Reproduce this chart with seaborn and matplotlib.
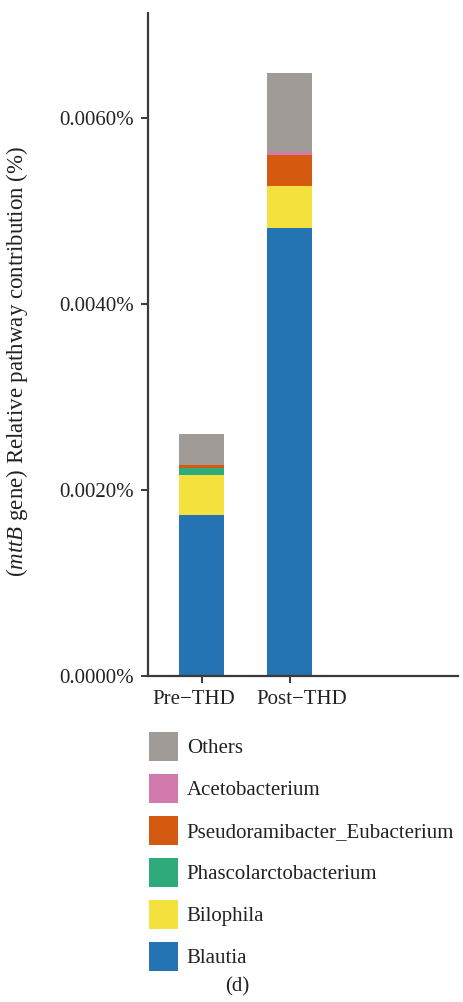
import matplotlib
matplotlib.use("Agg")
import matplotlib.pyplot as plt
import matplotlib.patches as mpatches
import matplotlib.transforms as mtransforms
from matplotlib.ticker import FuncFormatter, MultipleLocator
import numpy as np
import pandas as pd
import seaborn as sns

# Relative pathway contribution (%) of the mttB gene by genus
groups = ["Pre\u2212THD", "Post\u2212THD"]
genera = ["Blautia", "Bilophila", "Phascolarctobacterium",
          "Pseudoramibacter_Eubacterium", "Acetobacterium", "Others"]
blautia = [0.001731, 0.004817]
bilophila = [0.000430, 0.000452]
phascolarctobacterium = [0.000075, 0.0]
pseudoramibacter = [0.000032, 0.000333]
acetobacterium = [0.0, 0.000032]
others = [0.000333, 0.000850]
colors = ["#2474B4", "#F4E13E", "#2EAA7B", "#D45A10", "#D279AE", "#A09B97"]

layers = [blautia, bilophila, phascolarctobacterium,
          pseudoramibacter, acetobacterium, others]

FS = 15

sns.set_theme(style="ticks")
plt.rcParams["font.family"] = ["Liberation Serif", "DejaVu Serif"]
plt.rcParams["mathtext.fontset"] = "custom"
plt.rcParams["mathtext.it"] = "Liberation Serif:italic"
plt.rcParams["mathtext.rm"] = "Liberation Serif"

fig = plt.figure(figsize=(4.63, 10.02), dpi=100)
ax = fig.add_axes([148 / 463, 326 / 1002, 310 / 463, 663 / 1002])

# stacked bars: draw cumulative totals from the top layer down
cum = np.cumsum(np.array(layers), axis=0)
for i in range(len(layers) - 1, -1, -1):
    df = pd.DataFrame({"group": groups, "value": cum[i]})
    sns.barplot(data=df, x="group", y="value", order=groups,
                color=colors[i], saturation=1, width=0.51,
                errorbar=None, ax=ax, linewidth=0)

ax.set_xlim(-0.614, 2.92)
ax.set_ylim(0, 0.00713)
ax.yaxis.set_major_locator(MultipleLocator(0.002))
ax.yaxis.set_major_formatter(FuncFormatter(lambda v, p: f"{v:.4f}%"))

for s in ["top", "right"]:
    ax.spines[s].set_visible(False)
for s in ["left", "bottom"]:
    ax.spines[s].set_color("#3a3a3a")
    ax.spines[s].set_linewidth(1.6)

ax.tick_params(axis="both", colors="#3a3a3a", labelcolor="#222222",
               labelsize=FS, width=1.4, length=5, direction="out")
ax.tick_params(axis="x", pad=5)
ax.tick_params(axis="y", pad=5)
ax.set_xlabel("")

# spread the two group labels apart so they do not touch
for lab, dx in zip(ax.get_xticklabels(), [-8, 12]):
    lab.set_transform(lab.get_transform() +
                      mtransforms.ScaledTranslation(dx / 100, 0, fig.dpi_scale_trans))

ax.set_ylabel(r"($\it{mttB}$ gene) Relative pathway contribution (%)",
              fontsize=16.5, color="#222222")
ax.yaxis.set_label_coords(-0.38, 0.475)

handles = [mpatches.Patch(facecolor=colors[i], edgecolor="none", label=genera[i])
           for i in range(len(genera) - 1, -1, -1)]
fig.legend(handles=handles, loc="upper left",
           bbox_to_anchor=(141 / 463, 1 - 724 / 1002),
           frameon=False, fontsize=FS, handlelength=1.39, handleheight=1.75,
           labelspacing=0.63, handletextpad=0.4, borderaxespad=0,
           labelcolor="#222222")

fig.text(237 / 463, 1 - 987 / 1002, "(d)", ha="center", va="center",
         fontsize=FS, color="#222222")

fig.savefig("out.png", dpi=100)
